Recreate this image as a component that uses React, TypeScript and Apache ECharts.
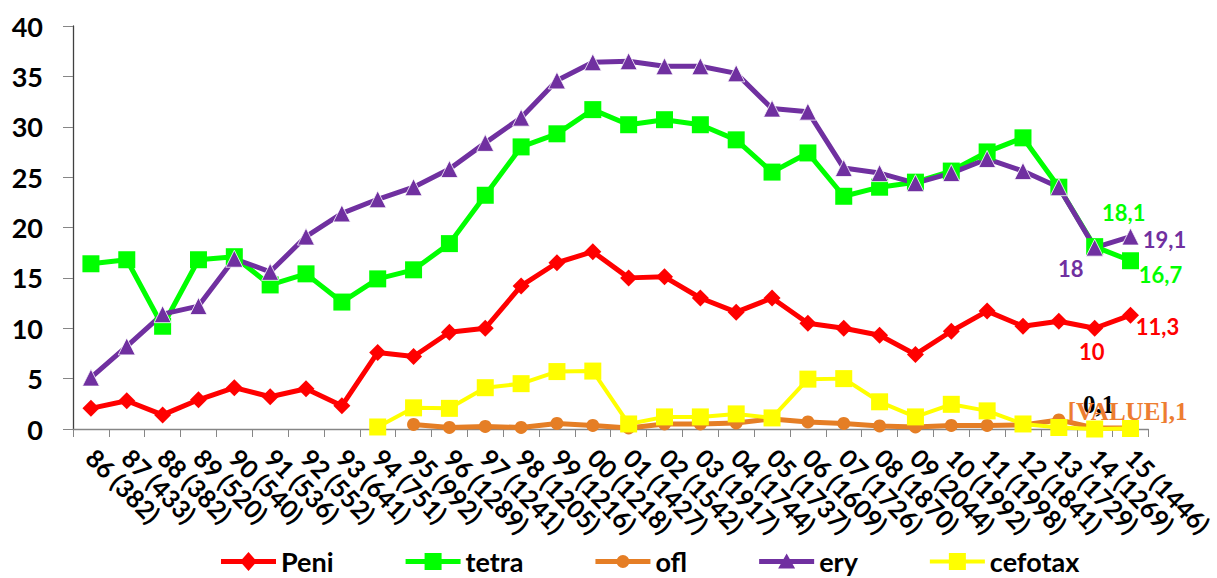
import React, { useEffect, useRef } from "react";
import * as echarts from "echarts";

const categories = [
  "86 (382)", "87 (433)", "88 (382)", "89 (520)", "90 (540)", "91 (536)", "92 (552)", "93 (641)",
  "94 (751)", "95 (992)", "96 (1289)", "97 (1241)", "98 (1205)", "99 (1216)", "00 (1218)",
  "01 (1427)", "02 (1542)", "03 (1917)", "04 (1744)", "05 (1737)", "06 (1609)", "07 (1726)",
  "08 (1870)", "09 (2044)", "10 (1992)", "11 (1998)", "12 (1841)", "13 (1729)", "14 (1269)", "15 (1446)",
];

const peni = [2.05, 2.8, 1.4, 2.9, 4.1, 3.2, 4.0, 2.3, 7.6, 7.2, 9.6, 10.0, 14.2, 16.5, 17.6, 15.0, 15.1, 13.0, 11.6, 13.0, 10.5, 10.0, 9.3, 7.4, 9.7, 11.7, 10.2, 10.7, 10, 11.3];
const tetra = [16.4, 16.8, 10.2, 16.8, 17.1, 14.3, 15.4, 12.6, 14.9, 15.8, 18.4, 23.2, 28.0, 29.3, 31.7, 30.2, 30.7, 30.2, 28.7, 25.5, 27.4, 23.1, 24.0, 24.5, 25.6, 27.5, 28.9, 24.0, 18.1, 16.7];
const ofl = [null, null, null, null, null, null, null, null, null, 0.45, 0.15, 0.25, 0.15, 0.55, 0.35, 0.1, 0.5, 0.5, 0.6, 1.0, 0.7, 0.55, 0.3, 0.2, 0.35, 0.35, 0.4, 0.9, 0.1, 0.1];
const ery = [5.1, 8.2, 11.4, 12.2, 16.9, 15.6, 19.1, 21.4, 22.8, 24.0, 25.8, 28.4, 30.9, 34.6, 36.4, 36.5, 36.0, 36.0, 35.3, 31.8, 31.5, 25.9, 25.4, 24.4, 25.4, 26.8, 25.6, 24.0, 18, 19.1];
const cefotax = [null, null, null, null, null, null, null, null, 0.2, 2.1, 2.05, 4.1, 4.5, 5.7, 5.75, 0.5, 1.2, 1.2, 1.5, 1.1, 4.95, 5.0, 2.7, 1.2, 2.45, 1.8, 0.5, 0.15, 0, 0.05];

const seriesNames = ["Peni", "tetra", "ofl", "ery", "cefotax"];
const yTicks = [0, 5, 10, 15, 20, 25, 30, 35, 40];

const FONT = "Lato";
const comma = (v: number) => String(v).replace(".", ",");

// legend icons: thick line + marker, drawn in a 55 x 20 box
const BOX = "M0,0 L0.01,0 L0,0.01 Z M55,20 L54.99,20 L55,19.99 Z ";
const LINE5 = "M0,7.5 L55,7.5 L55,12.5 L0,12.5 Z ";
const LINE4 = "M0,8 L55,8 L55,12 L0,12 Z ";
const ICONS: Record<string, string> = {
  Peni: "path://" + BOX + LINE5 + "M27.5,0.5 L36,10 L27.5,19.5 L19,10 Z",
  tetra: "path://" + BOX + LINE5 + "M19,1.5 L36,1.5 L36,18.5 L19,18.5 Z",
  ofl: "path://" + BOX + LINE5 + "M21,10 A6.5,6.5 0 1,1 34,10 A6.5,6.5 0 1,1 21,10 Z",
  ery: "path://" + BOX + LINE5 + "M27.5,2 L36,17 L19,17 Z",
  cefotax: "path://" + BOX + LINE4 + "M19,1.5 L36,1.5 L36,18.5 L19,18.5 Z",
};

type LabelSpec = { offset: [number, number]; color: string; text?: string; family?: string; size?: number };

function buildData(values: (number | null)[], labels: Record<number, LabelSpec>) {
  return values.map((v, i) => {
    const l = labels[i];
    if (!l || v === null) return v;
    return {
      value: v,
      label: {
        show: true,
        position: "inside",
        offset: l.offset,
        formatter: l.text !== undefined ? l.text : comma(v),
        color: l.color,
        fontFamily: l.family || FONT,
        fontWeight: "bold",
        fontSize: l.size || 22,
      },
    };
  });
}

export default function App() {
  const ref = useRef<HTMLDivElement>(null);
  useEffect(() => {
    document.body.style.margin = "0";
    if (!ref.current) return;
    const chart = echarts.init(ref.current, undefined, { renderer: "svg" });
    const line = (name: string, data: any[], color: string, symbol: string, size: number, width: number, extra: any = {}) => ({
      name,
      type: "line",
      data,
      symbol,
      symbolSize: size,
      lineStyle: { color, width },
      itemStyle: { color, ...extra },
      connectNulls: false,
      label: { show: false },
      emphasis: { disabled: true },
    });
    chart.setOption({
      animation: false,
      grid: { left: 73, right: 68, top: 26, bottom: 149 },
      legend: {
        left: 216,
        top: 543,
        itemWidth: 55,
        itemHeight: 20,
        itemGap: 72,
        textStyle: { fontFamily: FONT, fontWeight: "bold", fontSize: 27, lineHeight: 24, color: "#000" },
        data: seriesNames.map((n) => ({ name: n, icon: ICONS[n], itemStyle: { borderWidth: 0 } })),
      },
      xAxis: {
        type: "category",
        data: categories,
        boundaryGap: true,
        axisLine: { lineStyle: { color: "#868686", width: 1.3 } },
        axisTick: { show: true, length: 8, interval: 0, lineStyle: { color: "#868686" } },
        axisLabel: {
          interval: 0,
          rotate: -45,
          margin: 24,
          fontFamily: FONT,
          fontWeight: "bold",
          fontSize: 25,
          color: "#000",
        },
      },
      yAxis: {
        type: "value",
        min: yTicks[0],
        max: yTicks[yTicks.length - 1],
        interval: yTicks[1] - yTicks[0],
        splitLine: { show: false },
        axisLine: { show: true, lineStyle: { color: "#404040", width: 1.3 } },
        axisTick: { show: true, length: 10, lineStyle: { color: "#868686" } },
        axisLabel: { margin: 30, fontFamily: FONT, fontWeight: "bold", fontSize: 27, color: "#000" },
      },
      series: [
        line(seriesNames[0], buildData(peni, {
          28: { offset: [-3, 23], color: "#FF0000" },
          29: { offset: [27, 11], color: "#FF0000" },
        }), "#FF0000", "diamond", 17, 5),
        line(seriesNames[1], buildData(tetra, {
          28: { offset: [29, -34], color: "#00FF00" },
          29: { offset: [30, 14], color: "#00FF00" },
        }), "#00FF00", "rect", 17, 5),
        line(seriesNames[2], buildData(ofl, {
          28: { offset: [4, -23], color: "#000000", family: "Liberation Serif", size: 25 },
          29: { offset: [-3, -16], color: "#ED7D31", text: "[VALUE],1", family: "Liberation Serif", size: 25 },
        }), "#E57E25", "circle", 13, 5),
        line(seriesNames[3], buildData(ery, {
          28: { offset: [-24, 21], color: "#7030A0" },
          29: { offset: [34, 3], color: "#7030A0" },
        }), "#7030A0", "triangle", 17, 5, { borderColor: "#ffffff", borderWidth: 0.8 }),
        line(seriesNames[4], buildData(cefotax, {}), "#FFFF00", "rect", 17, 4),
      ],
    });
    return () => chart.dispose();
  }, []);
  return <div ref={ref} style={{ width: 1217, height: 578 }} />;
}
